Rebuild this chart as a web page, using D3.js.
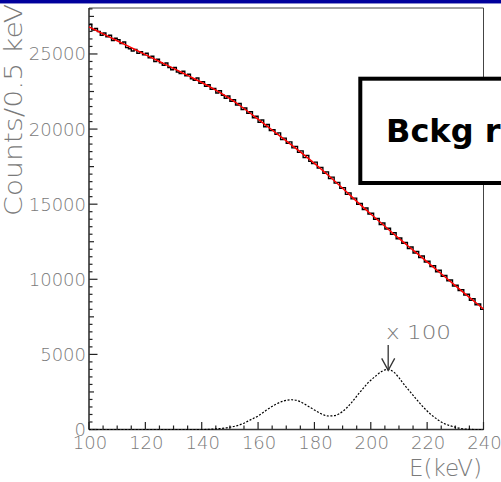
<!DOCTYPE html>
<html><head><meta charset="utf-8">
<script src="https://cdn.jsdelivr.net/npm/d3@7"></script>
<style>html,body{margin:0;padding:0;background:#fff;overflow:hidden}svg{display:block}</style>
</head><body>
<svg id="c" width="501" height="482"></svg>
<script>
// ---- data ----
const xTickLabels = [100,120,140,160,180,200,220,240];
const yTickLabels = [0,5000,10000,15000,20000,25000];
// fitted background (red)
const fitE      = [100,105,110,115,120,125,130,135,140,145,150,155,160,165,170,175,180,185,190,195,200,205,210,215,220,225,230,235,240];
const fitCounts = [26800,26340,25880,25420,24960,24500,24040,23570,23100,22590,22020,21370,20660,19940,19220,18480,17720,16910,16060,15190,14350,13530,12720,11940,11160,10370,9580,8800,8020];
// measured histogram (black), 1 keV bins starting at 100 keV
const histStart = 100;
const histCounts = [26950,26600,26700,26500,26250,26400,26150,26250,25900,26050,
 25950,25700,25800,25420,25350,25200,25300,25050,25150,24950,
 25050,24750,24850,24500,24650,24420,24250,24400,24100,23950,
 24100,23800,23700,23850,23550,23650,23350,23250,23400,23050,
 23150,22850,22950,22650,22700,22400,22550,22250,22050,22200,
 21850,21950,21600,21700,21300,21400,21050,21150,20750,20850,
 20450,20600,20150,20300,19900,19950,19650,19750,19300,19400,
 19050,19150,18750,18850,18450,18550,18100,18250,17850,17700,
 17800,17400,17450,17050,17150,16700,16800,16400,16450,16050,
 16100,15650,15750,15350,15400,15000,15050,14650,14750,14350,
 14400,14000,14050,13650,13750,13350,13400,13000,13100,12700,
 12750,12400,12450,12050,12150,11750,11850,11450,11550,11150,
 11200,10850,10900,10500,10600,10200,10250,9900,9950,9550,
 9600,9250,9300,8950,9000,8600,8700,8300,8350,8000];
// signal x100 (dashed)
const sigE      = [100,140,145,150,155,157,160,163,166,169,172,175,177,180,182,185,187,190,193,196,199,202,204,206,208,210,212,214,216,218,220,222,224,226,228,230,232,235,237,240];
const sigCounts = [0,0,40,150,420,620,900,1290,1650,1890,1980,1850,1640,1300,1080,900,920,1200,1750,2450,3100,3600,3880,4000,3850,3450,2950,2500,2050,1620,1230,900,620,400,260,150,70,10,0,0];
const arrowE = 206;
const arrowLabel = "x 100";
const boxLabel = "Bckg rate";
const xTitle = "E(keV)";
const yTitle = "Counts/0.5 keV";

// ---- layout ----
const svg = d3.select("#c");
const L = 89, R = 483.5, T = 8, B = 429.5;
const x = d3.scaleLinear().domain([100,240]).range([L,R]);
const y = d3.scaleLinear().domain([0,28060]).range([B,T]);
const grey = "#7a7a7a";
const FONT = "DejaVu Sans";

// top blue bar
svg.append("rect").attr("x",0).attr("y",0).attr("width",501).attr("height",3).attr("fill","#00009c");
svg.append("line").attr("x1",0).attr("x2",501).attr("y1",3.5).attr("y2",3.5).attr("stroke","#8a8ad0").attr("stroke-width",1);

// frame top/right
svg.append("line").attr("x1",L).attr("x2",R).attr("y1",T).attr("y2",T).attr("stroke","#444").attr("stroke-width",1);
svg.append("line").attr("x1",R).attr("x2",R).attr("y1",T).attr("y2",B).attr("stroke","#444").attr("stroke-width",1);

// y axis
const yMinor = d3.range(0,28001,500);
svg.append("g").selectAll("line").data(yMinor).join("line")
  .attr("x1",L).attr("x2",d=> d%5000===0 ? L+8.5 : (d%2500===0 ? L+5 : L+3.5))
  .attr("y1",d=>y(d)).attr("y2",d=>y(d)).attr("stroke","#222").attr("stroke-width",1.2);
svg.append("line").attr("x1",L).attr("x2",L).attr("y1",T).attr("y2",B).attr("stroke","#333").attr("stroke-width",1.6);
svg.append("g").selectAll("text").data(yTickLabels).join("text")
  .attr("x",86).attr("y",d=>y(d)).attr("dy","0.36em").attr("text-anchor","end")
  .attr("font-family",FONT).attr("font-weight",300).attr("font-size",18).attr("fill",grey).text(d=>d);

// x axis
const xMinor = d3.range(100,241,5);
svg.append("g").selectAll("line").data(xMinor).join("line")
  .attr("x1",d=>x(d)).attr("x2",d=>x(d)).attr("y1",B)
  .attr("y2",d=> d%20===0 ? B-7.5 : B-4).attr("stroke","#222").attr("stroke-width",1.2);
svg.append("line").attr("x1",L).attr("x2",R).attr("y1",B).attr("y2",B).attr("stroke","#333").attr("stroke-width",1.6);
svg.append("g").selectAll("text").data(xTickLabels).join("text")
  .attr("x",d=>x(d)+1).attr("y",449).attr("text-anchor","middle")
  .attr("font-family",FONT).attr("font-weight",300).attr("font-size",18).attr("fill",grey).text(d=>d);

// titles
svg.append("text").attr("transform","translate(22,4) rotate(-90)").attr("text-anchor","end")
  .attr("textLength",212).attr("lengthAdjust","spacingAndGlyphs")
  .attr("font-family",FONT).attr("font-weight",300).attr("font-size",24.5).attr("fill",grey).text(yTitle);
svg.append("text").attr("x",482).attr("y",476).attr("text-anchor","end")
  .attr("font-family",FONT).attr("font-weight",300).attr("font-size",23).attr("fill",grey).text(xTitle);

// histogram
const histPts = histCounts.map((v,i)=>[histStart+i, v]);
histPts.push([histStart+histCounts.length, histCounts[histCounts.length-1]]);
svg.append("path").datum(histPts)
  .attr("d", d3.line().x(d=>x(d[0])).y(d=>y(d[1])).curve(d3.curveStepAfter))
  .attr("fill","none").attr("stroke","#000").attr("stroke-width",1.4);
// fit
svg.append("path").datum(fitE.map((e,i)=>[e,fitCounts[i]]))
  .attr("d", d3.line().x(d=>x(d[0])).y(d=>y(d[1])).curve(d3.curveMonotoneX))
  .attr("fill","none").attr("stroke","#ff0000").attr("stroke-width",1.5);
// signal
svg.append("path").datum(sigE.map((e,i)=>[e,sigCounts[i]]))
  .attr("d", d3.line().x(d=>x(d[0])).y(d=>y(d[1])).curve(d3.curveMonotoneX))
  .attr("fill","none").attr("stroke","#000").attr("stroke-width",1.2).attr("stroke-dasharray","2,1.6");

// arrow + label
const ax = x(arrowE) + 0.5, peakY = y(d3.max(sigCounts)) + 1;
svg.append("line").attr("x1",ax).attr("x2",ax).attr("y1",345).attr("y2",peakY).attr("stroke","#333").attr("stroke-width",1.3);
svg.append("path").attr("d",`M${ax-6.5},${peakY-12}L${ax},${peakY}L${ax+6.5},${peakY-12}`)
  .attr("fill","none").attr("stroke","#333").attr("stroke-width",1.3);
svg.append("text").attr("x",386).attr("y",339).attr("textLength",65).attr("lengthAdjust","spacingAndGlyphs")
  .attr("font-family",FONT).attr("font-weight",300).attr("font-size",19).attr("fill",grey).text(arrowLabel);

// box
svg.append("rect").attr("x",360.3).attr("y",78.7).attr("width",200).attr("height",104.3)
  .attr("fill","#fff").attr("stroke","#000").attr("stroke-width",4);
svg.append("text").attr("x",386).attr("y",142).attr("font-family",FONT).attr("font-weight","bold")
  .attr("font-size",32).attr("fill","#000").text(boxLabel);
</script>
</body></html>
